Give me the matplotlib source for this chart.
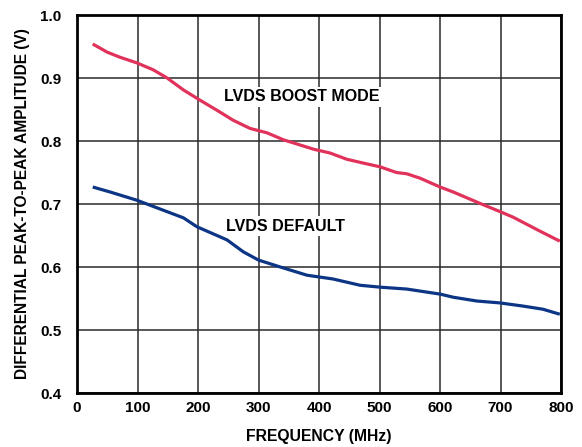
import numpy as np
import matplotlib
matplotlib.use('Agg')
import matplotlib.pyplot as plt

plt.rcParams['font.family'] = ['Liberation Sans', 'DejaVu Sans']
plt.rcParams['font.weight'] = 'bold'

# values
freq_boost = [26, 50, 71, 99, 126, 149, 176, 203, 231, 258, 286, 314, 341,
              391, 418, 446, 473, 501, 528, 545, 567, 600, 622, 666, 699,
              721, 765, 798]
amp_boost = [0.954, 0.941, 0.933, 0.924, 0.913, 0.900, 0.881, 0.865, 0.849,
             0.833, 0.820, 0.813, 0.802, 0.787, 0.781, 0.771, 0.765, 0.759,
             0.750, 0.748, 0.741, 0.727, 0.719, 0.701, 0.688, 0.679,
             0.657, 0.641]

freq_default = [26, 55, 99, 132, 176, 198, 248, 275, 300, 336, 380, 423, 468,
                501, 545, 600, 622, 661, 699, 737, 770, 798]
amp_default = [0.727, 0.719, 0.706, 0.694, 0.678, 0.664, 0.643, 0.624, 0.611,
               0.600, 0.587, 0.581, 0.571, 0.568, 0.565, 0.557, 0.552, 0.546,
               0.543, 0.538, 0.533, 0.525]

x_ticks = [0, 100, 200, 300, 400, 500, 600, 700, 800]
y_ticks = [0.4, 0.5, 0.6, 0.7, 0.8, 0.9, 1.0]

fig = plt.figure(figsize=(5.82, 4.47), dpi=100)
ax = fig.add_axes([0.1323, 0.1208, 0.8317, 0.8456])

ax.plot(freq_boost, amp_boost, color='#E0325A', lw=2.3, solid_capstyle='butt')
ax.plot(freq_default, amp_default, color='#0D3585', lw=2.3, solid_capstyle='butt')

ax.set_xlim(0, 800)
ax.set_ylim(0.4, 1.0)
ax.set_xticks(x_ticks)
ax.set_yticks(y_ticks)
ax.set_yticklabels(['%.1f' % v for v in y_ticks])
ax.grid(True, color='#2a2a2a', lw=1.1)
ax.tick_params(length=0, labelsize=11)
ax.tick_params(axis='x', pad=6)
ax.tick_params(axis='y', pad=11)
for sp in ax.spines.values():
    sp.set_linewidth(2)
    sp.set_color('black')

box = dict(facecolor='white', edgecolor='none', pad=2)
ax.text(372, 0.870, 'LVDS BOOST MODE', ha='center', va='center',
        fontsize=11.5, fontweight='bold', bbox=box)
ax.text(344, 0.665, 'LVDS DEFAULT', ha='center', va='center',
        fontsize=11.5, fontweight='bold', bbox=box)

ax.set_xlabel('FREQUENCY (MHz)', fontsize=11.3, fontweight='bold')
ax.set_ylabel('DIFFERENTIAL PEAK-TO-PEAK AMPLITUDE (V)', fontsize=11.2,
              fontweight='bold')
ax.xaxis.set_label_coords(0.5, -0.114)
ax.yaxis.set_label_coords(-0.112, 0.5)
ax.xaxis.label.set_va('center')
ax.yaxis.label.set_va('center')

fig.savefig('out.png', dpi=100)
